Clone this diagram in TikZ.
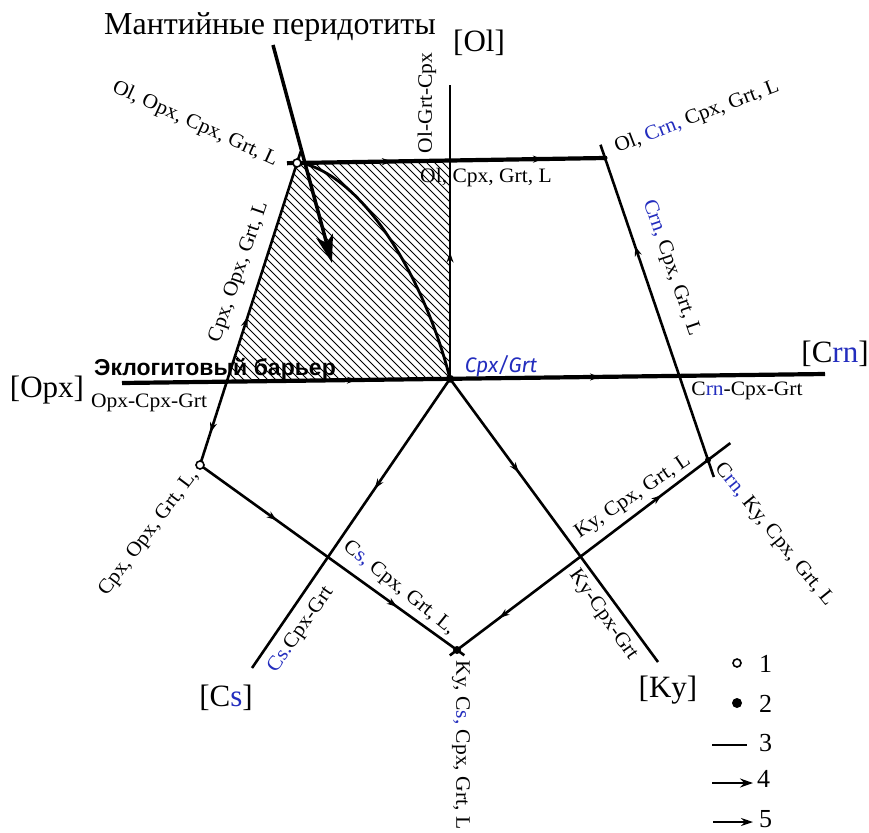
\documentclass[tikz,border=0pt]{standalone}
\usepackage{fontspec}
\setmainfont{Liberation Serif}
\newfontfamily\labfont{Liberation Serif}[FakeStretch=1.05]
\newfontfamily\barfont{Liberation Sans}
\newfontfamily\handfont{Fira Sans}
\usetikzlibrary{arrows.meta,decorations.markings,calc}
\definecolor{inkblue}{RGB}{35,45,190}
\tikzset{
  lnA/.style={line width=2.6pt},
  lnB/.style={line width=4.2pt},
  ar/.style={postaction={decorate},decoration={markings,mark=at position #1 with {\arrow{Stealth[length=10pt,width=7pt]}}}},
  artwo/.style 2 args={postaction={decorate},decoration={markings,
     mark=at position #1 with {\arrow{Stealth[length=10pt,width=7pt]}},
     mark=at position #2 with {\arrow{Stealth[length=10pt,width=7pt]}}}},
  labtxt/.style={font=\labfont\fontsize{20.5}{20.5}\selectfont, inner sep=0pt},
  bigtxt/.style={font=\fontsize{31}{31}\selectfont, inner sep=0pt},
  bartxt/.style={font=\barfont\bfseries\fontsize{23}{23}\selectfont, inner sep=0pt},
  handtxt/.style={font=\handfont\itshape\fontsize{21}{21}\selectfont, text=inkblue, inner sep=0pt},
  lgnum/.style={font=\fontsize{26}{26}\selectfont, inner sep=0pt},
  openpt/.style={circle, draw, line width=1.6pt, fill=white, minimum size=8pt, inner sep=0pt},
  fullpt/.style={circle, fill, minimum size=8pt, inner sep=0pt},
}
\begin{document}
\begin{tikzpicture}[x=1pt,y=-1pt]
\fill[white] (0,0) rectangle (869,832);
\useasboundingbox (0,0) rectangle (869,832);

% points
\coordinate (Ltop) at (297,163);
\coordinate (Rtop) at (605,158);
\coordinate (OlT) at (450,85);
\coordinate (C) at (450,378.8);
\coordinate (OpxE) at (122,383);
\coordinate (CrnE) at (825,374);
\coordinate (Lbot) at (200,465);
\coordinate (B) at (457,650);
\coordinate (Rbot) at (708,460);
\coordinate (CsE) at (252,668);
\coordinate (KyE) at (658,662);
\coordinate (X1) at (intersection of Ltop--Lbot and OpxE--CrnE);
\coordinate (T1) at (intersection of Ltop--Rtop and OlT--C);
\coordinate (X2) at (intersection of B--Rbot and C--KyE);

% hatched field
\begin{scope}
\clip (Ltop) -- (T1) -- (C) -- (X1) -- cycle;
\foreach \i in {-300,-292,...,300} \draw[line width=0.9pt] (\i+200,100) -- ++(350,350);
\end{scope}

% lines
\draw[lnB, artwo={0.33}{0.805}] ($(Ltop)!-10pt!(Rtop)$) -- (Rtop);
\draw[lnA, ar=0.43] (C) -- (OlT);
\draw[lnB, artwo={0.334}{0.68}] (OpxE) -- (CrnE);
\draw[lnA, ar=0.695] ($(Rbot)!-18pt!(Rtop)$) -- ($(Rtop)!-14pt!(Rbot)$);
\draw[lnA, ar=0.28] (X1) -- ($(Ltop)!-12pt!(X1)$);
\draw[lnA, ar=0.61] (X1) -- (Lbot);
\draw[lnA, artwo={0.29}{0.745}] (Lbot) -- ($(B)!-9pt!(Lbot)$);
\draw[lnA, ar=0.38] (C) -- (CsE);
\draw[lnA, ar=0.33] (C) -- (KyE);
\draw[lnA, ar=0.62] (X2) -- ($(B)!-9pt!(X2)$);
\draw[lnA, ar=0.54] (X2) -- ($(Rbot)!-28pt!(X2)$);

% curve
\draw[line width=2.8pt] ($(Ltop)+(5,0)$) .. controls (370,180) and (428,290) .. (C);

% vertices
\node[openpt] (vLtop) at (Ltop) {};
\node[openpt] (vLbot) at (Lbot) {};
\node[fullpt] (vC) at (C) {};
\node[fullpt] (vB) at (B) {};
\node[fullpt, minimum size=5pt] (vRtop) at (Rtop) {};
\node[fullpt, minimum size=6pt] (vRbot) at (Rbot) {};

% big labels
\node[font=\fontsize{32}{32}\selectfont, inner sep=0pt, anchor=base] (mtitle) at (270,35) {Мантийные перидотиты};
\node[bigtxt, anchor=base] (ol) at (479,52) {[Ol]};
\node[bigtxt, anchor=base] (opx) at (47,397) {[Opx]};
\node[bigtxt, anchor=base] (crn) at (835,362) {[C\textcolor{inkblue}{rn}]};
\node[bigtxt, anchor=base] (ky) at (668,697) {[Ky]};
\node[bigtxt, anchor=base] (cs) at (226,706) {[C\textcolor{inkblue}{s}]};

% small labels
\node[labtxt, rotate=-24.5] (t1) at (195,124) {Ol, Opx, Cpx, Grt, L};
\node[labtxt, rotate=90] (t2) at (427,103) {Ol-Grt-Cpx};
\node[labtxt, anchor=base] (t3) at (486,182) {Ol, Cpx, Grt, L};
\node[labtxt, rotate=21] (t4) at (697,117) {Ol, \textcolor{inkblue}{Crn,} Cpx, Grt, L};
\node[labtxt, rotate=-71] (t5) at (671,268) {\textcolor{inkblue}{Crn,} Cpx, Grt, L};
\node[labtxt, anchor=base] (t6) at (747,395) {C\textcolor{inkblue}{rn}-Cpx-Grt};
\node[handtxt] (t7) at (501,366) {Cpx/Grt};
\node[bartxt, anchor=base] (t8) at (215,375) {Эклогитовый барьер};
\node[labtxt, anchor=base] (t9) at (149,407) {Opx-Cpx-Grt};
\node[labtxt, rotate=71] (t10) at (239,272) {Cpx, Opx, Grt, L};
\node[labtxt, rotate=53] (t11) at (149,533) {Cpx, Opx, Grt, L,};
\node[labtxt, rotate=-39] (t12) at (399,588) {C\textcolor{inkblue}{s,} Cpx, Grt, L,};
\node[labtxt, rotate=55] (t13) at (301,630) {\textcolor{inkblue}{Cs.}Cpx-Grt};
\node[labtxt, rotate=-90] (t14) at (461,745) {Ky, C\textcolor{inkblue}{s,} Cpx, Grt, L};
\node[labtxt, rotate=34] (t15) at (633,497) {Ky, Cpx, Grt, L};
\node[labtxt, rotate=-51] (t16) at (774,535) {C\textcolor{inkblue}{rn,} Ky, Cpx, Grt, L};
\node[labtxt, rotate=-55] (t17) at (603,615) {Ky-Cpx-Grt};

% mantle arrow
\coordinate (mstart) at (273,45);
\coordinate (mtip) at (332,263);
\draw[line width=3.5pt, -{Stealth[length=28pt,width=17pt,inset=7pt]}] (mstart) -- (mtip);

% legend
\node[openpt] (lg1) at (737,663) {};
\node[lgnum, anchor=base west] (n1) at (759,672) {1};
\node[fullpt, minimum size=10pt] (lg2) at (737,703) {};
\node[lgnum, anchor=base west] (n2) at (759,712) {2};
\coordinate (l3a) at (712,745);
\coordinate (l3b) at (747,745);
\draw[line width=2pt] (l3a) -- (l3b);
\node[lgnum, anchor=base west] (n3) at (759,751) {3};
\coordinate (l4a) at (712,783);
\coordinate (l4b) at (753,783);
\draw[line width=2pt, -{Stealth[length=13pt,width=9pt]}] (l4a) -- (l4b);
\node[lgnum, anchor=base west] (n4) at (757,787) {4};
\coordinate (l5a) at (713,822);
\coordinate (l5b) at (753,822);
\draw[line width=1.5pt, -{Stealth[length=12pt,width=8pt]}] (l5a) -- (l5b);
\node[lgnum, anchor=base west] (n5) at (759,827) {5};
\end{tikzpicture}
\end{document}
